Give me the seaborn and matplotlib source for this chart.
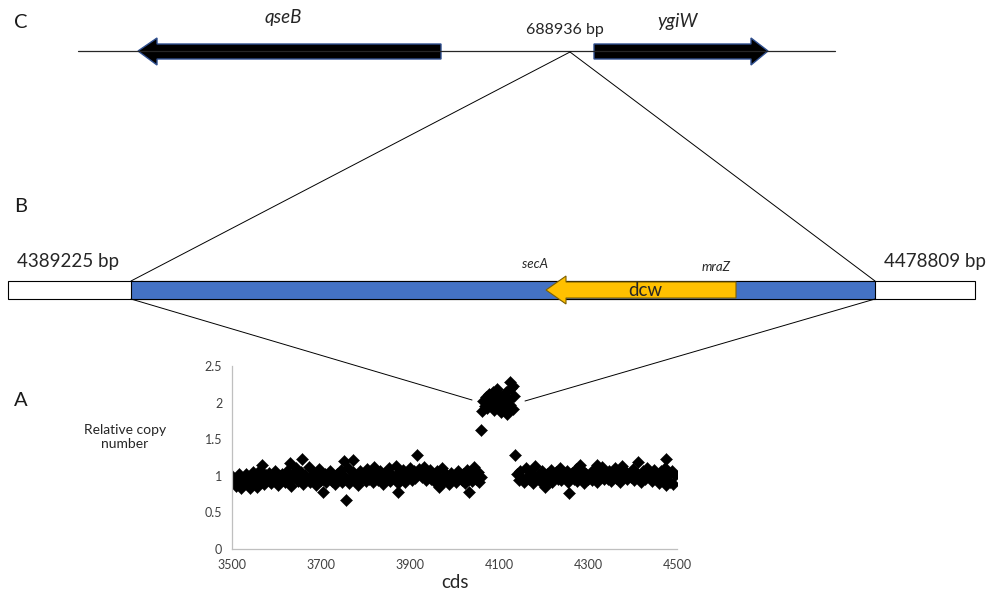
import numpy as np
import pandas as pd
import matplotlib
matplotlib.use("Agg")
import matplotlib.pyplot as plt
from matplotlib.patches import Polygon, Rectangle
import seaborn as sns

# Panel A data: relative copy number per cds
left_start, left_step = 3500, 4
left_copy = [
    1.00, 0.92, 0.86, 0.97, 1.03, 0.84, 0.95, 0.90, 1.02, 0.88, 0.83, 0.96, 1.05, 0.91, 0.85, 0.99,
    1.08, 0.93, 0.89, 1.01, 0.96, 1.04, 0.90, 0.98, 1.06, 0.94, 0.88, 1.00, 1.03, 0.95, 0.91, 1.07,
    0.97, 0.86, 1.02, 0.99, 1.10, 0.93, 0.97, 1.05, 0.89, 1.01, 0.95, 1.12, 0.92, 0.98, 1.04, 0.87,
    1.00, 1.09, 0.94,
    0.96, 1.02, 0.91, 0.99, 1.06, 0.93, 0.97, 0.89, 1.03, 0.95, 1.08, 0.92, 1.00, 0.96, 1.11, 0.90,
    0.98, 1.05, 0.94, 1.01, 0.88, 1.07, 0.97, 1.03, 0.93,
    1.09, 0.95, 1.02, 0.91, 1.12, 0.98, 0.94, 1.06, 1.00, 0.89, 1.04, 0.96, 1.10, 0.93, 1.01, 0.97,
    1.13, 0.90, 1.05, 0.95, 1.08, 0.92, 1.02, 0.99, 1.11, 0.94, 1.06, 0.97, 1.03, 1.09,
    1.05, 0.98, 1.12, 0.94, 1.03, 1.08, 0.96, 1.01, 0.92, 1.06, 0.99, 0.95, 1.10, 0.93, 1.02, 0.97,
    0.89, 1.04, 0.96, 1.00, 0.91, 1.07, 0.98, 0.94, 1.03, 0.90, 1.08, 0.96, 1.01, 0.93, 1.12, 0.95,
    1.05, 0.92, 0.99,
]
dup_start, dup_step = 4062, 3
dup_copy = [
    1.88, 2.02, 1.95, 2.08, 1.92, 2.12, 1.98, 2.05, 2.15, 1.90, 2.03, 2.18, 1.96, 2.10, 1.87, 2.06,
    2.00, 1.93, 2.14, 1.84, 2.04, 1.97, 2.20, 1.91, 2.09,
]
right_start, right_step = 4140, 4
right_copy = [
    1.02, 0.94, 1.06, 0.97, 0.91, 1.10, 0.99, 0.95, 1.04, 0.90, 1.13, 0.96, 1.01, 0.93, 1.07, 0.98,
    0.89, 1.03, 0.95, 1.08, 0.92, 1.00, 1.05, 0.96, 1.11, 0.94,
    1.02, 0.97, 1.06, 0.91, 0.99, 1.04, 0.95, 1.09, 0.93, 1.01, 0.97, 1.07, 0.90, 1.03, 0.96, 1.00,
    0.94, 1.08, 0.98, 0.92, 1.05, 0.99, 1.12, 0.95, 1.02,
    0.96, 1.07, 0.93, 1.01, 1.10, 0.97, 1.04, 0.91, 1.13, 0.99, 1.06, 0.95, 1.02, 0.98, 1.09, 0.94,
    1.03, 0.97, 1.00, 0.92, 1.06, 0.96, 1.11, 0.99, 1.04, 0.93, 1.08, 0.97, 1.02, 0.90, 1.07, 0.95,
    1.10, 0.88, 1.03, 0.92, 1.06, 0.89, 1.01,
]
outlier_cds = [3567, 3630, 3657, 3705, 3751, 3756, 3773, 3872, 3916, 3966, 4033,
               4060, 4125, 4132, 4137, 4203, 4258, 4283, 4320, 4413, 4475]
outlier_copy = [1.15, 1.18, 1.23, 0.78, 1.20, 0.67, 1.22, 0.78, 1.28, 0.85, 0.78,
                1.62, 2.28, 2.22, 1.28, 0.85, 0.76, 1.15, 1.15, 1.19, 1.23]

x_ticks = [3500, 3700, 3900, 4100, 4300, 4500]
y_ticks = [0, 0.5, 1, 1.5, 2, 2.5]
y_tick_labels = ["0", "0.5", "1", "1.5", "2", "2.5"]


def segment(start, step, values):
    return pd.DataFrame({"cds": start + step * np.arange(len(values)), "copy": values})


df = pd.concat([
    segment(left_start, left_step, left_copy),
    segment(dup_start, dup_step, dup_copy),
    segment(right_start, right_step, right_copy),
    pd.DataFrame({"cds": outlier_cds, "copy": outlier_copy}),
], ignore_index=True)

sns.set_style("white")
plt.rcParams["font.family"] = ["Lato", "DejaVu Sans"]

W, H = 993, 598
fig = plt.figure(figsize=(W / 100, H / 100), dpi=100)

# Scatter axes (panel A)
ax = fig.add_axes([232 / W, 1 - 549 / H, (677 - 232) / W, (549 - 366) / H])
sns.scatterplot(data=df, x="cds", y="copy", marker="D", s=38, color="black",
                edgecolor="black", linewidth=0.3, ax=ax)
ax.set_xlim(3500, 4500)
ax.set_ylim(0, 2.5)
ax.set_xticks(x_ticks)
ax.set_yticks(y_ticks)
ax.set_yticklabels(y_tick_labels)
ax.tick_params(length=0, labelsize=9, colors="#404040", pad=7)
ax.set_xlabel("cds", fontsize=13.5, color="#262626", labelpad=2)
ax.set_ylabel("")
for side in ["top", "right"]:
    ax.spines[side].set_visible(False)
for side in ["left", "bottom"]:
    ax.spines[side].set_color("#BFBFBF")
    ax.spines[side].set_linewidth(0.9)
ax.patch.set_alpha(0)

# Overlay axes in pixel coordinates for the gene diagrams
ov = fig.add_axes([0, 0, 1, 1], zorder=5)
ov.set_xlim(0, W)
ov.set_ylim(H, 0)
ov.axis("off")
ov.patch.set_alpha(0)

# Panel letters
for letter, ypos in [("C", 23), ("B", 207), ("A", 401)]:
    ov.text(14, ypos, letter, fontsize=14.5, va="center", ha="left", color="#1a1a1a")

# Panel C: genomic context
ov.plot([78, 835], [51, 51], color="#262626", lw=0.9)
arrow_edge = "#2F4F8F"
qseB = [(138, 51), (157, 38), (157, 44), (441, 44), (441, 59), (157, 59), (157, 65)]
ygiW = [(768, 51), (751, 38), (751, 44), (594, 44), (594, 59), (751, 59), (751, 65)]
for pts in (qseB, ygiW):
    ov.add_patch(Polygon(pts, closed=True, facecolor="black", edgecolor=arrow_edge, lw=1))
ov.text(283, 17, "qseB", fontsize=13.5, style="italic", ha="center", va="center")
ov.text(678, 22, "ygiW", fontsize=13.5, style="italic", ha="center", va="center")
ov.text(565, 30, "688936 bp", fontsize=11.5, ha="center", va="center")

# Zoom lines C -> B
ov.plot([570, 131], [52, 281], color="black", lw=0.7)
ov.plot([570, 875], [52, 281], color="black", lw=0.7)

# Panel B: amplified region
ov.add_patch(Rectangle((8, 281), 967, 18, facecolor="white", edgecolor="black", lw=0.8))
ov.add_patch(Rectangle((131, 281), 744, 18, facecolor="#4472C4", edgecolor="black", lw=0.8))
dcw = [(546, 290), (566, 276), (566, 282), (736, 282), (736, 298), (566, 298), (566, 304)]
ov.add_patch(Polygon(dcw, closed=True, facecolor="#FFC000", edgecolor="#7F6000", lw=0.8))
ov.text(645, 290, "dcw", fontsize=13.5, ha="center", va="center")
ov.text(535, 264, "secA", fontsize=9.5, style="italic", ha="center", va="center")
ov.text(716, 267, "mraZ", fontsize=9.5, style="italic", ha="center", va="center")
ov.text(68, 261, "4389225 bp", fontsize=13.5, ha="center", va="center")
ov.text(935, 261, "4478809 bp", fontsize=13.5, ha="center", va="center")

# Zoom lines B -> A
ov.plot([131, 472], [299, 400], color="black", lw=0.7)
ov.plot([875, 525], [299, 401], color="black", lw=0.7)

# Y label of panel A
ov.text(125, 437, "Relative copy\nnumber", fontsize=10, ha="center", va="center",
        linespacing=1.3)

fig.savefig("out.png", dpi=100)
